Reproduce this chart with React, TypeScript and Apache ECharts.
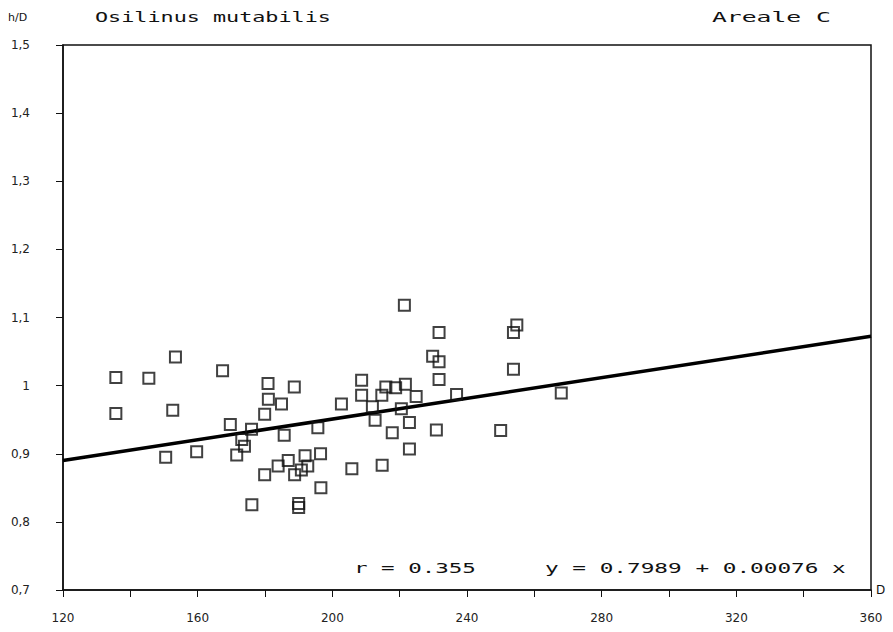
import React, { useEffect, useRef } from "react";
import * as echarts from "echarts";

// Shell diameter D and height/diameter ratio h/D for each specimen
const diameterD = [
  135.7, 135.7, 145.5, 153.4, 152.6, 150.5, 159.7, 167.4, 169.7, 176.0,
  173.1, 173.9, 171.6, 176.1, 180.9, 181.0, 179.9, 184.9, 188.7, 185.7,
  179.9, 183.9, 186.9, 188.8, 190.8, 192.7, 191.9, 190.0, 190.0, 196.5,
  195.7, 196.6, 202.7, 205.8, 208.7, 208.7, 211.9, 212.7, 214.7, 215.9,
  214.8, 217.8, 218.8, 221.4, 221.7, 220.5, 222.9, 222.9, 224.9, 229.8,
  231.7, 231.7, 231.7, 230.9, 236.9, 250.0, 253.8, 254.8, 253.8, 268.0,
];
const ratioHD = [
  1.012, 0.959, 1.011, 1.042, 0.964, 0.895, 0.903, 1.022, 0.943, 0.936,
  0.921, 0.911, 0.898, 0.825, 1.003, 0.98, 0.958, 0.973, 0.998, 0.927,
  0.869, 0.882, 0.89, 0.869, 0.876, 0.882, 0.897, 0.827, 0.821, 0.9,
  0.938, 0.85, 0.973, 0.878, 1.008, 0.986, 0.969, 0.949, 0.986, 0.998,
  0.883, 0.931, 0.997, 1.118, 1.002, 0.966, 0.946, 0.907, 0.984, 1.043,
  1.078, 1.035, 1.009, 0.935, 0.987, 0.934, 1.078, 1.089, 1.024, 0.989,
];

// Linear regression of h/D on D
const intercept = 0.7989;
const slope = 0.00076;
const corrR = 0.355;

const xRange = [120, 360];
const yRange = [0.7, 1.5];

const titleText = "Osilinus mutabilis";
const areaText = "Areale C";

const MONO = "'DejaVu Sans Mono', 'Liberation Mono', monospace";
const SANS = "'DejaVu Sans', 'Liberation Sans', sans-serif";

// Monospaced text widened to a given span (wide-pitch printer lettering)
function wideText(text: string, x: number, y: number, width: number, fontSize: number) {
  return {
    type: "text",
    x,
    y,
    scaleX: width / (text.length * 0.602 * fontSize),
    silent: true,
    style: {
      text,
      fontFamily: MONO,
      fontSize,
      fill: "#111",
      verticalAlign: "middle",
    },
  };
}

export default function App() {
  const ref = useRef<HTMLDivElement>(null);

  useEffect(() => {
    if (!ref.current) return;
    const chart = echarts.init(ref.current, null, { renderer: "svg" });

    const points = diameterD.map((d, i) => [d, ratioHD[i]]);
    const fitLine = xRange.map((d) => [d, intercept + slope * d]);

    chart.setOption({
      animation: false,
      backgroundColor: "#fff",
      grid: {
        left: 63,
        right: 22,
        top: 45,
        bottom: 42,
        show: true,
        borderColor: "#111",
        borderWidth: 1.5,
        backgroundColor: "transparent",
      },
      xAxis: {
        type: "value",
        min: xRange[0],
        max: xRange[1],
        interval: 20,
        name: "D",
        nameLocation: "end",
        nameGap: 5,
        nameTextStyle: { fontFamily: SANS, fontSize: 12, color: "#111" },
        axisLine: { show: true, lineStyle: { color: "#111", width: 1.5 } },
        axisTick: { show: true, length: 7, lineStyle: { color: "#111", width: 1 } },
        axisLabel: {
          margin: 22,
          color: "#222",
          fontFamily: SANS,
          fontSize: 12,
          formatter: (v: number) => ((v - 120) % 40 === 0 ? String(v) : ""),
        },
        splitLine: { show: false },
      },
      yAxis: {
        type: "value",
        min: yRange[0],
        max: yRange[1],
        interval: 0.1,
        axisLine: { show: true, lineStyle: { color: "#111", width: 1.5 } },
        axisTick: { show: true, length: 7, lineStyle: { color: "#111", width: 1 } },
        axisLabel: {
          margin: 33,
          color: "#222",
          fontFamily: SANS,
          fontSize: 12,
          formatter: (v: number) => String(Math.round(v * 10) / 10).replace(".", ","),
        },
        splitLine: { show: false },
      },
      graphic: [
        {
          type: "text",
          x: 8,
          y: 17,
          silent: true,
          style: { text: "h/D", fontFamily: SANS, fontSize: 11, fill: "#111", verticalAlign: "middle" },
        },
        wideText(titleText, 95, 17, 236, 14),
        wideText(areaText, 712, 17, 119, 14),
        wideText(`r = ${corrR.toFixed(3)}`, 354, 568, 122, 14),
        wideText(`y = ${intercept} + ${slope} x`, 545, 568, 301, 14),
      ],
      series: [
        {
          type: "line",
          data: fitLine,
          symbol: "none",
          lineStyle: { color: "#000", width: 3.5 },
          z: 2,
        },
        {
          type: "scatter",
          data: points,
          symbol: "rect",
          symbolSize: 11,
          itemStyle: { color: "rgba(0,0,0,0)", borderColor: "#111", borderWidth: 2 },
          z: 3,
        },
      ],
    });

    return () => chart.dispose();
  }, []);

  return (
    <div
      ref={ref}
      style={{ position: "fixed", left: 0, top: 0, width: 893, height: 632, background: "#fff" }}
    />
  );
}
